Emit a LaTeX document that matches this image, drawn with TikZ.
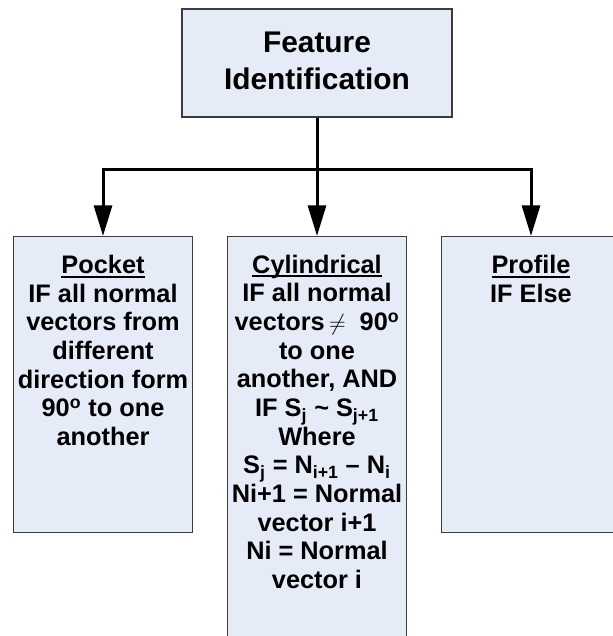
\documentclass[tikz,border=0pt]{standalone}
\usepackage{fontspec}
\setmainfont{Liberation Sans}
\usetikzlibrary{arrows.meta}
\definecolor{boxfill}{RGB}{229,236,247}
\definecolor{boxline}{RGB}{60,60,60}
\newcommand{\headul}[1]{\setbox0\hbox{#1}\rlap{\vrule width\wd0 height -1.6pt depth 3.0pt}\box0}
\begin{document}
\begin{tikzpicture}[x=0.75pt,y=-0.75pt,
  box/.style={draw=boxline, fill=boxfill, line width=0.8pt, rectangle, inner sep=0pt},
  lowbox/.style={box, anchor=north, minimum width=134.25pt},
  titletext/.style={align=center, inner sep=0pt, font=\fontsize{22.4}{27.75}\selectfont\bfseries},
  bodytext/.style={align=center, inner sep=0pt, anchor=north, font=\fontsize{19}{21.5}\selectfont\bfseries},
  conn/.style={line width=2.25pt, line join=miter, draw=black},
  arr/.style={conn, -{Triangle[length=23pt,width=13.5pt]}}]
\useasboundingbox (0,0) rectangle (613,636);
\clip (0,0) rectangle (613,636);
% boxes
\node[box, minimum width=202.5pt, minimum height=81pt] (top) at (317,63) {};
\node[titletext] (toptext) at (317,61) {Feature\\Identification};
\node[lowbox, minimum height=222pt] (pocket) at (103,236) {};
\node[lowbox, minimum height=310.5pt] (cyl) at (317,236) {};
\node[lowbox, minimum height=222pt] (profile) at (531,236) {};
% texts
\node[bodytext] (pockettext) at ([yshift=-14.25pt]pocket.north)
  {\headul{Pocket}\\IF all normal\\vectors from\\different\\direction form\\90\textsuperscript{o} to one\\another};
\node[bodytext] (cyltext) at ([yshift=-14pt]cyl.north)
  {\headul{Cylindrical}\\IF all normal\\vectors\,{\normalfont$\neq$}\ \ 90\textsuperscript{o}\\to one\\another, AND\\IF S\textsubscript{j} \textasciitilde{} S\textsubscript{j+1}\\Where\\S\textsubscript{j} = N\textsubscript{i+1} -- N\textsubscript{i}\\Ni+1 = Normal\\vector i+1\\Ni = Normal\\vector i};
\node[bodytext] (profiletext) at ([yshift=-14.25pt]profile.north)
  {\headul{Profile}\\IF Else};
% connectors
\coordinate (j) at (317,169);
\draw[conn] (top.south) -- (j);
\draw[arr] (j) -- (cyl.north);
\draw[arr] (j) -| (pocket.north);
\draw[arr] (j) -| (profile.north);
\end{tikzpicture}
\end{document}
